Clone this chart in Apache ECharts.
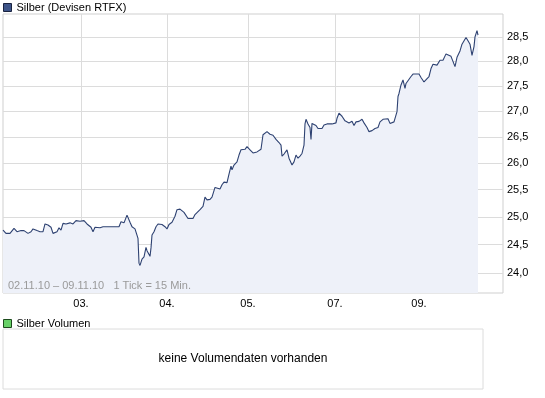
<!DOCTYPE html>
<html>
<head>
<meta charset="utf-8">
<script src="https://cdn.jsdelivr.net/npm/echarts@6/dist/echarts.min.js"></script>
<style>
  html, body { margin: 0; padding: 0; background: #fff; }
  #chart { width: 545px; height: 398px; }
</style>
</head>
<body>
<div id="chart"></div>
<script>
// Silber (Devisen RTFX), 02.11.10 - 09.11.10, 1 Tick = 15 Min.
const dayPos = [81, 167, 248, 335, 419];
const dayLabels = ['03.', '04.', '05.', '07.', '09.'];
const priceTicks = [24.0, 24.5, 25.0, 25.5, 26.0, 26.5, 27.0, 27.5, 28.0, 28.5];
const priceMin = 23.65;
const priceMax = 28.98;

// position on the tick axis
const tickPos = [
  3, 6, 10, 14, 17, 19, 21, 24, 28, 31, 33, 37, 40, 43, 45, 48, 51, 53, 55, 57,
  59, 61, 63, 66, 70, 73, 76, 80, 84, 87, 91, 93,
  95, 100, 103, 108, 110, 113, 119, 121, 124, 127, 130, 132, 135, 137, 138, 139, 140, 142,
  144, 146, 147, 149, 150, 151, 152, 154, 156, 158, 162, 165, 167, 169, 172, 175, 177, 180, 184, 188,
  190, 193, 195, 197, 200, 203, 205, 207, 210, 212, 215, 217, 220, 222, 224, 227, 229, 231, 232, 234,
  237, 239, 241, 245, 247, 250, 253, 257, 259, 261, 263, 267, 270, 273, 276, 279, 281, 282, 284,
  287, 289, 291, 292, 294, 296, 298, 300, 302, 304, 305, 306, 308, 310, 311, 312, 314, 316, 318, 322,
  324, 327, 332, 336, 337, 339, 342, 345, 349, 352, 354, 356, 359, 362, 364, 367, 369, 372, 375, 378,
  380, 383, 385, 388, 390, 392, 394, 396, 397, 398, 399, 401, 402, 403, 405, 406, 408, 411, 413, 415,
  419, 421, 424, 426, 429, 431, 433, 435, 437, 440, 443, 446, 448, 451, 453, 455, 457, 460, 462, 464,
  466, 468, 470, 472, 474, 475, 477, 478
];
const prices = [
  24.76, 24.70, 24.70, 24.79, 24.73, 24.72, 24.75, 24.75, 24.70, 24.73, 24.78, 24.75, 24.73, 24.73, 24.87, 24.85, 24.81, 24.70, 24.72, 24.73,
  24.80, 24.76, 24.88, 24.87, 24.89, 24.87, 24.93, 24.92, 24.93, 24.87, 24.81, 24.73,
  24.81, 24.80, 24.82, 24.82, 24.84, 24.82, 24.82, 24.91, 24.89, 25.03, 24.90, 24.82, 24.78, 24.80, 24.61, 24.17, 24.13, 24.24,
  24.28, 24.45, 24.39, 24.42, 24.29, 24.44, 24.67, 24.73, 24.82, 24.87, 24.86, 24.82, 24.78, 24.86, 24.90, 25.01, 25.13, 25.14, 25.08, 24.97,
  24.96, 24.97, 25.04, 25.07, 25.13, 25.19, 25.36, 25.31, 25.32, 25.36, 25.54, 25.51, 25.51, 25.59, 25.64, 25.63, 25.79, 25.94, 25.87, 25.96,
  26.02, 26.15, 26.25, 26.26, 26.31, 26.25, 26.19, 26.21, 26.19, 26.26, 26.54, 26.60, 26.55, 26.53, 26.45, 26.39, 26.34, 26.13, 26.17,
  26.25, 26.09, 26.06, 25.96, 26.02, 26.15, 26.09, 26.13, 26.18, 26.34, 26.75, 26.84, 26.75, 26.68, 26.45, 26.76, 26.77, 26.72, 26.66, 26.66,
  26.73, 26.75, 26.75, 26.77, 26.86, 26.96, 26.90, 26.81, 26.77, 26.80, 26.72, 26.79, 26.80, 26.84, 26.77, 26.68, 26.60, 26.62, 26.66, 26.68,
  26.79, 26.84, 26.82, 26.85, 26.76, 26.73, 26.79, 26.82, 26.99, 27.29, 27.35, 27.52, 27.48, 27.62, 27.45, 27.55, 27.52, 27.69, 27.74, 27.72,
  27.74, 27.67, 27.58, 27.60, 27.69, 27.85, 27.94, 27.92, 27.92, 28.02, 28.02, 28.15, 28.16, 28.10, 28.10, 27.89, 28.08, 28.21, 28.35, 28.35,
  28.49, 28.42, 28.35, 28.12, 28.30, 28.50, 28.63, 28.54
];

const chart = echarts.init(document.getElementById('chart'), null, { renderer: 'canvas' });

// price axis is logarithmic -> plot ln(price)
const seriesData = tickPos.map((t, i) => [t, Math.log(prices[i])]);
const fontFam = '"Liberation Sans", Arial, sans-serif';

chart.setOption({
  animation: false,
  backgroundColor: '#fff',
  legend: [
    {
      data: ['Silber (Devisen RTFX)'],
      left: 3, top: 2, padding: 0,
      itemWidth: 8, itemHeight: 8, icon: 'rect',
      itemStyle: { borderColor: '#1a2340', borderWidth: 1 },
      textStyle: { fontSize: 11, color: '#000', fontFamily: fontFam }
    },
    {
      data: ['Silber Volumen'],
      left: 3, top: 318, padding: 0,
      itemWidth: 8, itemHeight: 8, icon: 'rect',
      itemStyle: { borderColor: '#1c4a1c', borderWidth: 1 },
      textStyle: { fontSize: 11, color: '#000', fontFamily: fontFam }
    }
  ],
  grid: [
    { left: 3, right: 42, top: 14, bottom: 105, show: true, borderColor: '#cfcfcf', borderWidth: 1 },
    { left: 3, width: 480, top: 329, height: 60, show: true, borderColor: '#dcdcdc', borderWidth: 1 }
  ],
  xAxis: [
    {
      type: 'value', gridIndex: 0,
      min: 3, max: 503,
      axisLine: { show: false },
      axisTick: { show: false, customValues: dayPos },
      axisLabel: {
        customValues: dayPos,
        margin: 5,
        fontSize: 11, color: '#000', fontFamily: fontFam,
        formatter: v => dayLabels[dayPos.indexOf(v)]
      },
      splitLine: { show: true, lineStyle: { color: '#dcdcdc', width: 1 } }
    },
    { type: 'value', gridIndex: 1, show: false, splitLine: { show: false } }
  ],
  yAxis: [
    {
      type: 'value', gridIndex: 0, position: 'right',
      min: Math.log(priceMin), max: Math.log(priceMax),
      axisLine: { show: false },
      axisTick: { show: false, customValues: priceTicks.map(Math.log) },
      axisLabel: {
        customValues: priceTicks.map(Math.log),
        margin: 4,
        fontSize: 11, color: '#000', fontFamily: fontFam,
        formatter: v => Math.exp(v).toFixed(1).replace('.', ',')
      },
      splitLine: { show: true, lineStyle: { color: '#dcdcdc', width: 1 } }
    },
    { type: 'value', gridIndex: 1, show: false, splitLine: { show: false } }
  ],
  series: [
    {
      name: 'Silber (Devisen RTFX)',
      type: 'line',
      xAxisIndex: 0, yAxisIndex: 0,
      data: seriesData,
      showSymbol: false,
      symbol: 'none',
      itemStyle: { color: '#3d5488' },
      lineStyle: { color: '#2e4272', width: 1.1 },
      areaStyle: { color: '#eef1f9', opacity: 1, origin: 'start' }
    },
    {
      name: 'Silber Volumen',
      type: 'bar',
      xAxisIndex: 1, yAxisIndex: 1,
      data: [],
      itemStyle: { color: '#66d066' }
    }
  ],
  graphic: [
    {
      type: 'text', x: 8, y: 286, z: 100,
      style: {
        text: '02.11.10 – 09.11.10   1 Tick = 15 Min.',
        font: '11px "Liberation Sans", Arial, sans-serif',
        fill: '#9a9a9a', textVerticalAlign: 'middle'
      }
    },
    {
      type: 'text', x: 243, y: 359, z: 100,
      style: {
        text: 'keine Volumendaten vorhanden',
        font: '12px "Liberation Sans", Arial, sans-serif',
        fill: '#000', textAlign: 'center', textVerticalAlign: 'middle'
      }
    }
  ]
});
</script>
</body>
</html>
